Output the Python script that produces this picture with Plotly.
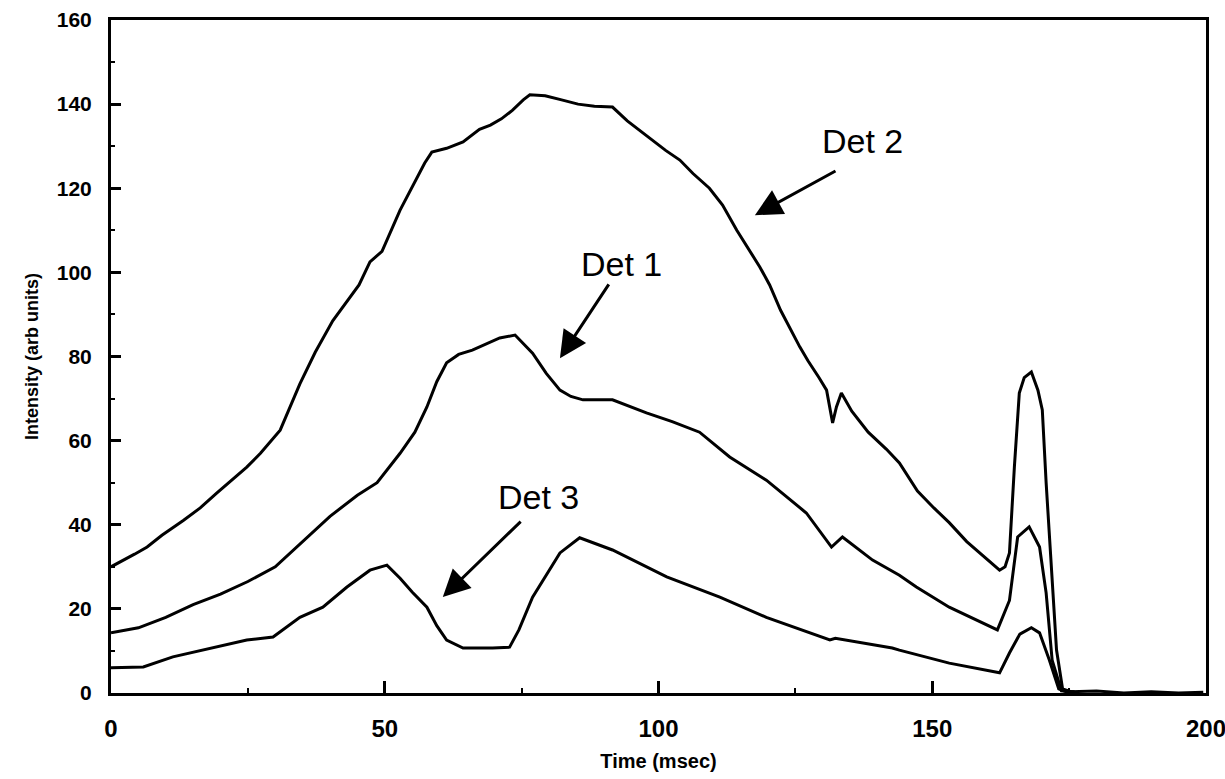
import plotly.graph_objects as go

# Time (msec) and intensities (arb units)
det2_t = [0, 2.3, 4.3, 6.6, 9.3, 13.2, 16.3, 19.3, 22.3, 24.8, 27.3, 30.9, 34.5, 37.3, 40.5, 43, 45.3,
          47.3, 49.5, 52.8, 55.3, 57.3, 58.6, 61.3, 64.3, 67.3, 69.3, 71.3, 73.3, 75.3, 76.5, 79.3,
          82.3, 85.3, 88.3, 91.6, 94.3, 97.3, 101.3, 103.9, 106.3, 109.3, 111.7, 114.3, 116.3,
          118.5, 120.3, 122.3, 125.8, 127.3, 129.3, 130.7, 131.8, 132.5, 133.4, 135.3, 138.3,
          141.6, 144, 147.3, 150.3, 153.1, 156.3, 159.3, 162.3, 163.3, 164.1, 165, 165.9, 166.8,
          168.1, 169.3, 170.1, 170.8, 171.7, 172.7, 173.8, 175.3, 180, 185, 190, 195, 199.5]
det2_i = [30, 31.5, 33, 34.7, 37.5, 41, 44, 47.5, 51, 53.7, 57, 62.5, 73.5, 81, 88.5, 93, 97,
          102.5, 105, 114.8, 121, 126, 128.6, 129.5, 131, 134, 135, 136.5, 138.5, 141, 142.2, 142,
          141, 140, 139.5, 139.3, 136, 133, 129, 126.7, 123.5, 120, 116, 110, 106,
          101.3, 97, 91, 82.3, 79, 75, 72, 64.2, 68, 71.3, 67, 62,
          58, 54.7, 48, 44, 40.5, 36, 32.5, 29.2, 30, 33.3, 53.7, 71.3, 75,
          76.3, 72, 67.3, 50, 30, 10.2, 1, 0.3, 0.5, 0, 0.3, 0, 0.2]

det1_t = [0, 5, 10, 15, 20, 25, 30, 35, 40, 45, 48.6, 52.8, 55.5, 57.7, 59.5, 61.3, 63.5, 66, 71,
          73.8, 77, 79.5, 82, 84, 86.2, 91.6, 97.8, 102.5, 107.5, 113, 119.7, 127, 131.6, 133.6,
          139.1, 144, 147.1, 153.1, 158, 161.9, 164.1, 165.6, 167.7, 169.6, 170.8, 171.9, 173.6, 176]
det1_i = [14.3, 15.5, 18, 21, 23.5, 26.5, 30, 36, 42, 47, 50, 57, 62, 68, 74, 78.5, 80.5, 81.5, 84.4,
          85.1, 80.8, 76, 72, 70.5, 69.7, 69.7, 66.6, 64.5, 62, 56.1, 50.6, 42.8, 34.7, 37.1,
          31.6, 28, 25.2, 20.4, 17.5, 15, 22, 37.1, 39.5, 34.7, 23.8, 7.8, 0.5, 0.3]

det3_t = [0, 5.9, 11.3, 18.6, 24.8, 29.6, 34.5, 38.7, 43.1, 47.3, 50.4, 52.8, 55, 57.7, 59.5, 61.3,
          64.3, 69.7, 72.8, 74.5, 77, 82, 85.6, 91.6, 101.5, 111.2, 119.7, 131.3, 132.3, 142.7, 144,
          153.1, 162.3, 164.1, 166, 168.1, 169.6, 171.4, 173.1, 175]
det3_i = [6, 6.2, 8.6, 10.7, 12.6, 13.3, 18, 20.4, 25.2, 29.2, 30.4, 27.3, 24, 20.4, 16, 12.6,
          10.7, 10.7, 10.9, 15, 22.8, 33.3, 36.9, 34, 27.6, 22.8, 18, 12.6, 13, 10.7, 10.2,
          7.1, 4.8, 9.5, 14, 15.5, 14.3, 7.8, 1, 0]

labels = ["Det 2", "Det 1", "Det 3"]
label_pos = [(137.2, 131.2), (93.2, 102.0), (78.0, 46.6)]
arrow_head = [(117.6, 113.6), (82.0, 79.6), (60.6, 22.8)]
arrow_tail = [(132.6, 124.3), (91.1, 97.5), (75.1, 41.1)]

fig = go.Figure()
for t, i, name in [(det2_t, det2_i, "Det 2"), (det1_t, det1_i, "Det 1"), (det3_t, det3_i, "Det 3")]:
    fig.add_trace(go.Scatter(x=t, y=i, mode="lines", name=name,
                             line=dict(color="black", width=3), showlegend=False))

for lab, (tx, ty), (hx, hy), (sx, sy) in zip(labels, label_pos, arrow_head, arrow_tail):
    fig.add_annotation(x=tx, y=ty, text=lab, showarrow=False,
                       font=dict(family="Liberation Sans, Arial", size=34, color="black"))
    fig.add_annotation(x=hx, y=hy, ax=sx, ay=sy, axref="x", ayref="y", xref="x", yref="y",
                       text="", showarrow=True, arrowhead=2, arrowsize=1.8, arrowwidth=3,
                       arrowcolor="black")

fig.update_layout(
    width=1225, height=779,
    margin=dict(l=111, r=19, t=20, b=86, autoexpand=False),
    paper_bgcolor="white", plot_bgcolor="white",
    font=dict(family="Liberation Sans, Arial", color="black"),
)
fig.update_xaxes(
    range=[0, 200], tickvals=[0, 50, 100, 150, 200], ticktext=["0", "50", "100", "150", "200"],
    ticks="inside", ticklen=12, tickwidth=3, ticklabeloverflow="allow", automargin=False,
    tickcolor="black", showline=True, linecolor="black", linewidth=3, mirror=True,
    showgrid=False, zeroline=False, ticklabelstandoff=12,
    tickfont=dict(size=24, family="Liberation Sans, Arial", weight="bold"),
    minor=dict(tickvals=[25, 75, 125, 175], ticks="inside", ticklen=5, tickwidth=2, tickcolor="black"),
    title=dict(text="<b>Time (msec)</b>", font=dict(size=20), standoff=14),
)
fig.update_yaxes(
    range=[0, 160], tickvals=[0, 20, 40, 60, 80, 100, 120, 140, 160], ticks="inside", ticklen=10,
    tickwidth=3, tickcolor="black", showline=True, linecolor="black", linewidth=3, mirror=True,
    showgrid=False, zeroline=False, ticklabelstandoff=12, automargin=False,
    tickfont=dict(size=21, family="Liberation Sans, Arial", weight="bold"),
    minor=dict(tickvals=[10, 30, 50, 70, 90, 110, 130, 150], ticks="inside", ticklen=4, tickwidth=2,
               tickcolor="black"),
    title=dict(text="<b>Intensity (arb units)</b>", font=dict(size=18), standoff=14),
)

fig.write_html("out.html")
